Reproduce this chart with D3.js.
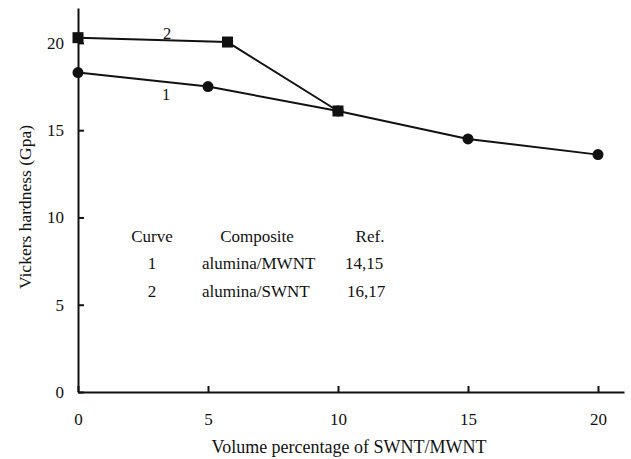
<!DOCTYPE html>
<html>
<head>
<meta charset="utf-8">
<script src="https://cdn.jsdelivr.net/npm/d3@7"></script>
<style>
	body { margin: 0; background: #fff; }
</style>
</head>
<body>
<div class="container"></div>
<script>
// values
var curve1X = [0, 5, 10, 15, 20];
var curve1Y = [18.3, 17.5, 16.1, 14.5, 13.6];
var curve2X = [0, 5.75, 10];
var curve2Y = [20.3, 20.05, 16.1];

var xTicks = [0, 5, 10, 15, 20];
var yTicks = [0, 5, 10, 15, 20];

var tableHeader = ["Curve", "Composite", "Ref."];
var tableCurve = ["1", "2"];
var tableComposite = ["alumina/MWNT", "alumina/SWNT"];
var tableRef = ["14,15", "16,17"];

var width = 631, height = 459;
var serif = "'Liberation Serif', 'Times New Roman', Times, serif";

var paper = d3.select('.container').append("svg")
	.attr("width", width)
	.attr("height", height)
	.attr("font-family", serif);

var x = d3.scaleLinear().domain([0, 21]).range([78, 624]);
var y = d3.scaleLinear().domain([0, 22]).range([392, 8]);

// axes, ticks pointing inward
var xAxis = paper.append("g")
	.attr("transform", "translate(0," + y(0) + ")")
	.call(d3.axisBottom(x).tickValues(xTicks).tickSizeInner(-6).tickSizeOuter(0));
xAxis.selectAll("text").attr("y", 33).attr("dy", null);

var yAxis = paper.append("g")
	.attr("transform", "translate(" + x(0) + ",0)")
	.call(d3.axisLeft(y).tickValues(yTicks).tickSizeInner(-6).tickSizeOuter(0).tickPadding(14));

paper.selectAll("g").attr("font-family", serif).attr("font-size", 17);

paper.selectAll(".domain, .tick line")
	.attr("stroke", "#111")
	.attr("stroke-width", 2);
paper.selectAll(".tick text").attr("fill", "#111");

// axis titles
paper.append("text")
	.attr("x", 349).attr("y", 453)
	.attr("text-anchor", "middle")
	.style("font-size", "18px")
	.text("Volume percentage of SWNT/MWNT");

paper.append("text")
	.attr("transform", "translate(31,207) rotate(-90)")
	.attr("text-anchor", "middle")
	.style("font-size", "17.5px")
	.text("Vickers hardness (Gpa)");

// lines
var line = d3.line()
	.x(function (d) { return x(d[0]); })
	.y(function (d) { return y(d[1]); });

var pts1 = d3.zip(curve1X, curve1Y);
var pts2 = d3.zip(curve2X, curve2Y);

paper.append("path").datum(pts1)
	.attr("d", line).attr("fill", "none")
	.attr("stroke", "#111").attr("stroke-width", 2);
paper.append("path").datum(pts2)
	.attr("d", line).attr("fill", "none")
	.attr("stroke", "#111").attr("stroke-width", 2);

// markers
paper.selectAll(".c1").data(pts1).enter()
	.append("circle")
		.attr("cx", function (d) { return x(d[0]); })
		.attr("cy", function (d) { return y(d[1]); })
		.attr("r", 5.5)
		.style("fill", "#111");

paper.selectAll(".c2").data(pts2).enter()
	.append("rect")
		.attr("x", function (d) { return x(d[0]) - 5.5; })
		.attr("y", function (d) { return y(d[1]) - 5.5; })
		.attr("width", 11)
		.attr("height", 11)
		.style("fill", "#111");

// curve labels
paper.append("text").attr("x", 167).attr("y", 39)
	.attr("text-anchor", "middle").style("font-size", "16.5px").text("2");
paper.append("text").attr("x", 166).attr("y", 100)
	.attr("text-anchor", "middle").style("font-size", "16.5px").text("1");

// legend table
var headX = [152, 257, 370];
paper.selectAll(".head").data(tableHeader).enter()
	.append("text")
		.attr("x", function (d, i) { return headX[i]; })
		.attr("y", 242)
		.attr("text-anchor", "middle")
		.style("font-size", "17px")
		.text(function (d) { return d; });

var rowY = [269, 297];
var refX = [345, 347];
tableCurve.forEach(function (c, i) {
	paper.append("text").attr("x", 152).attr("y", rowY[i])
		.attr("text-anchor", "middle").style("font-size", "17px").text(c);
	paper.append("text").attr("x", 202).attr("y", rowY[i])
		.style("font-size", "17px").text(tableComposite[i]);
	paper.append("text").attr("x", refX[i]).attr("y", rowY[i])
		.style("font-size", "17px").text(tableRef[i]);
});

paper.selectAll("text").attr("fill", "#111");
</script>
</body>
</html>
